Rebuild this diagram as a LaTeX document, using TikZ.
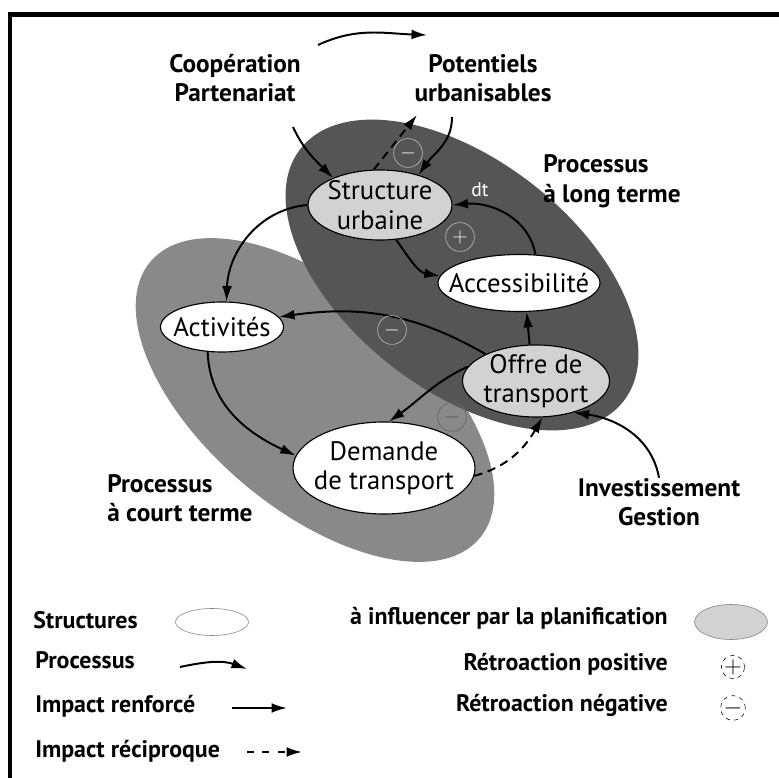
\documentclass[tikz,border=0pt]{standalone}
\usepackage{fontspec}
\setmainfont{PT Sans}
\usetikzlibrary{shapes.geometric,arrows.meta}

\definecolor{longgray}{HTML}{555555}
\definecolor{shortgray}{HTML}{898989}
\definecolor{nodegray}{HTML}{D2D2D2}

\begin{document}
\begin{tikzpicture}[
	every node/.style={font=\fontsize{19pt}{21pt}\selectfont},
	lbl/.style={font=\fontsize{18pt}{21pt}\selectfont\bfseries, align=center, inner sep=0pt},
	leg/.style={font=\fontsize{17pt}{19pt}\selectfont\bfseries, inner sep=0pt},
	elem/.style={ellipse, draw, line width=0.8pt, fill=white, inner xsep=-0.36cm, inner ysep=-0.1cm, align=center},
	planned/.style={elem, fill=nodegray},
	process/.style={line width=1.4pt, -{Latex[length=11pt,width=7pt]}},
	impact/.style={line width=1.4pt, -{Latex[length=11pt,width=7pt]}},
	recip/.style={line width=1.4pt, dash pattern=on 6pt off 4pt, -{Latex[length=11pt,width=7pt]}},
	fbsign/.style={circle, draw=gray!60, line width=0.5pt, text=white, minimum size=0.72cm, inner sep=0pt, font=\fontsize{14pt}{14pt}\selectfont},
	legsign/.style={circle, draw, dashed, line width=0.4pt, minimum size=0.5cm, inner sep=0pt, font=\fontsize{18pt}{18pt}\selectfont},
]
	\useasboundingbox (0,0) rectangle (19.475,19.45);

	%frame
	\draw[line width=3.5pt] (0.25,0) -- (0.25,19.09) -- (19.475,19.09);

	%short and long term processes
	\fill[shortgray, rotate around={-40:(7.875,9.45)}] (7.875,9.45) ellipse (5.375cm and 2.75cm);
	\fill[longgray, rotate around={-38:(11.55,12.575)}] (11.55,12.575) ellipse (5.125cm and 2.875cm);

	\node[lbl] (coop) at (5.875,17.5) {Coopération\\Partenariat};
	\node[lbl] (potent) at (12.075,17.5) {Potentiels\\urbanisables};
	\node[lbl, align=left, anchor=west] (longterm) at (13.575,14.925) {Processus\\à long terme};
	\node[lbl, align=left, anchor=west] (shortterm) at (2.675,7.0) {Processus\\à court terme};
	\node[lbl] (invest) at (16.475,6.9) {Investissement\\Gestion};

	%structures
	\node[planned, minimum width=3.6cm, minimum height=1.75cm] (struct) at (9.5,14.325) {Structure\\urbaine};
	\node[elem, minimum width=4.05cm, minimum height=1.425cm] (access) at (12.975,12.375) {Accessibilité};
	\node[elem, minimum width=3.075cm, minimum height=1.25cm] (activ) at (5.55,11.275) {Activités};
	\node[planned, minimum width=3.675cm, minimum height=1.8cm] (offre) at (13.4,9.925) {Offre de\\transport};
	\node[elem, minimum width=4.55cm, minimum height=2.3cm] (demande) at (9.6,7.75) {Demande\\de transport};

	\node[text=white, font=\fontsize{14pt}{15pt}\selectfont] (dt) at (12.0,14.7) {dt};

	%free ends
	\coordinate (arcA) at (7.95,18.325);
	\coordinate (arcB) at (10.675,18.575);
	\coordinate (coopout) at (7.325,16.275);
	\coordinate (potout) at (11.3,16.525);
	\coordinate (potin) at (10.425,16.575);

	%connectors
	\draw[process] (arcA) to[out=25,in=178] (arcB);
	\draw[process] (coopout) to[out=-65,in=135] (struct.150);
	\draw[process] (potout) to[out=-90,in=55] (struct.38);
	\draw[recip] (struct.100) -- (potin);
	\draw[process] (struct.west) to[out=185,in=88] (activ.80);
	\draw[process] (access.60) to[out=100,in=5] (struct.east);
	\draw[process] (struct.-65) to[out=-55,in=170] (access.175);
	\draw[impact] (offre.100) -- (access.-75);
	\draw[process] (offre.152) to[out=150,in=8] (activ.10);
	\draw[process] (offre.168) to[out=205,in=35] (demande.84);
	\draw[process] (activ.-120) to[out=-88,in=155] (demande.172);
	\draw[recip] (demande.-5) to[out=15,in=-120] (offre.-80);
	\draw[process] (invest.north) to[out=100,in=-8] (offre.-40);

	%feedback signs
	\node[fbsign] (plus) at (11.5,13.525) {$+$};
	\node[fbsign] (minustop) at (10.2,15.625) {$-$};
	\node[fbsign] (minusmid) at (9.8,11.2) {$-$};
	\node[fbsign, draw=gray!80!black, text=longgray] (minuslow) at (11.3,9.025) {$-$};

	%legend
	\node[leg, anchor=west] (legstruct) at (0.825,3.95) {Structures};
	\node[elem, draw=gray, line width=0.4pt, minimum width=1.825cm, minimum height=0.675cm] (legell) at (5.3,3.9) {};
	\node[leg, anchor=west] (legproc) at (0.875,2.95) {Processus};
	\coordinate (procA) at (4.5,2.775);
	\coordinate (procB) at (6.175,2.725);
	\draw[process] (procA) to[out=12,in=160] (procB);
	\node[leg, anchor=west] (legimp) at (0.875,1.8) {Impact renforcé};
	\coordinate (impA) at (5.8,1.75);
	\coordinate (impB) at (7.175,1.75);
	\draw[impact] (impA) -- (impB);
	\node[leg, anchor=west] (legrec) at (0.875,0.675) {Impact réciproque};
	\coordinate (recA) at (6.175,0.65);
	\coordinate (recB) at (7.55,0.65);
	\draw[recip, dash pattern=on 5pt off 6pt] (recA) -- (recB);

	\node[leg, anchor=east] (legplan) at (16.7,4.0) {à influencer par la planification};
	\node[planned, draw=gray, line width=0.4pt, minimum width=1.825cm, minimum height=0.875cm] (legplanell) at (18.275,3.9) {};
	\node[leg, anchor=east] (legpos) at (16.7,2.85) {Rétroaction positive};
	\node[legsign] (legplus) at (18.325,2.775) {$+$};
	\node[leg, anchor=east] (legneg) at (16.7,1.825) {Rétroaction négative};
	\node[legsign] (legminus) at (18.325,1.75) {$-$};
\end{tikzpicture}
\end{document}
